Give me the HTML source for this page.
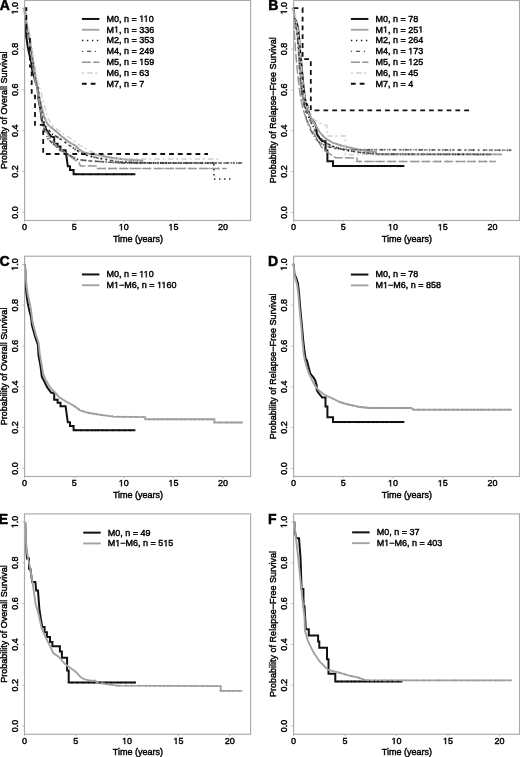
<!DOCTYPE html><html><head><meta charset="utf-8"><style>html,body{margin:0;padding:0;background:#fff;width:520px;height:757px;overflow:hidden}svg{display:block}text{font-family:"Liberation Sans",sans-serif;fill:#000;stroke:#000;stroke-width:0.42px}.h1{fill:none;stroke:none}</style></head><body>
<svg width="520" height="757" viewBox="0 0 520 757" style="filter:grayscale(1)">
<rect width="520" height="757" fill="#fff"/>
<g><path d="M24.8 7.95 L25.5 15.76 L25.8 30.78 L26.4 37.49 L27.6 46.2 L29.1 53.41 L31.1 61.32 L31.9 68.82 L35.2 80.84 L37.9 88.75 L38.5 99.36 L40.5 109.87 L41.8 120.49 L44.5 125.79 L47.1 131.1 L51.1 136.41 L54.2 137.21 L54.2 143.72 L57.6 143.72 L57.6 146.62 L60.5 146.62 L60.5 150.22 L65.6 150.22 L67.8 166.24 L70 166.24 L70 169.95 L73.6 169.95 L73.6 174.15 L135.4 174.15" fill="none" stroke="#111" stroke-width="2" stroke-linejoin="miter" stroke-linecap="butt"/><path d="M24.5 8.2 L25.5 18 L27 26 L28.8 34 L30.2 42 L31.5 50 L33 60 L34.5 72 L36.5 84 L39 95 L41.5 106 L44 116 L46.9 123 L48.5 125.2 L55 130.5 L61.9 136.6 L68.8 142 L75.4 145.8 L79.2 149.5 L83.8 152.3 L90.7 154 L100 155.2 L110 157.5 L125 159.5 L142.3 160.5 L142.3 163 L143.5 163" fill="none" stroke="#a2a2a2" stroke-width="1.9" stroke-linejoin="miter" stroke-linecap="butt"/><path d="M24.5 8.2 L25.6 18 L26.8 25 L28.4 33 L29.8 40 L30.9 48 L32.1 56 L33.3 64 L34.6 72 L36.1 81 L38.1 90 L40.1 102 L42 113 L43 120 L45.8 126.5 L51.5 133.5 L57.3 137 L61.9 140 L68.8 145 L75.4 149.4 L80.8 152.8 L86 155 L95 157.5 L106 159.5 L120 162 L150 163 L214 163 L214 179 L233 179" fill="none" stroke="#222" stroke-width="1.5" stroke-dasharray="1.4 3.6" stroke-linejoin="miter" stroke-linecap="butt"/><path d="M24.8 8.2 L25.6 18 L26.6 25 L28.1 33 L29.5 40 L30.6 48 L31.8 56 L33 64 L34.3 72 L35.8 81 L37.8 90 L39.8 102 L41.8 113 L42.3 124.5 L45 132 L48 138.8 L53.8 144.6 L59.6 149.2 L66.5 153.8 L73.4 157.3 L78 159.6 L90 161 L123 163 L242.5 163" fill="none" stroke="#555" stroke-width="1.4" stroke-dasharray="1.2 3.9 4.1 3.8" stroke-linejoin="miter" stroke-linecap="butt"/><path d="M24.1 8.2 L24.9 18 L25.9 25 L27.4 33 L28.8 40 L29.9 48 L31.1 56 L32.3 64 L33.6 72 L35.1 81 L37.1 90 L39.1 102 L41.1 113 L42 122 L46 131 L50 138 L55 144 L60 149 L67 154 L74.6 159.6 L79.2 163 L80.4 166 L97.5 166 L97.5 168.5 L226.7 168.5" fill="none" stroke="#959595" stroke-width="1.5" stroke-dasharray="9 2.4" stroke-linejoin="miter" stroke-linecap="butt"/><path d="M24.5 8.2 L25.8 16 L27.5 24 L29.5 33 L31 42 L32.6 53.2 L35 66 L37.2 79.6 L41.2 92.8 L44.5 106 L48.4 119.3 L53 125.9 L61 132.5 L70 138 L80 145.5 L90 151 L100 155.5 L106 159 L220 159" fill="none" stroke="#d0d0d0" stroke-width="1.4" stroke-dasharray="2.1 3.1 5.6 2.6" stroke-linejoin="miter" stroke-linecap="butt"/><path d="M24.5 8.2 L26.4 8.2 L26.4 37.4 L29.9 37.4 L29.9 66.5 L31.7 66.5 L31.7 95.7 L35 95.7 L35 124.9 L43.2 124.9 L43.2 154 L208 154" fill="none" stroke="#111" stroke-width="1.8" stroke-dasharray="4.8 4" stroke-linejoin="miter" stroke-linecap="butt"/><path d="M42 116.5v2.2M40.9 117.6h2.2M43.9 127.85v2.2M42.8 128.95h2.2M47.95 137.58v2.2M46.85 138.68h2.2M51.74 141.44v2.2M50.64 142.54h2.2M54 143.66v2.2M52.9 144.76h2.2M56.99 146.03v2.2M55.89 147.13h2.2M59.84 148.26v2.2M58.74 149.36h2.2M63.29 150.56v2.2M62.19 151.66h2.2M67.16 153.03v2.2M66.06 154.13h2.2M68.94 153.94v2.2M67.84 155.04h2.2M70.52 154.74v2.2M69.42 155.84h2.2M74.53 156.77v2.2M73.43 157.87h2.2M77.33 158.16v2.2M76.23 159.26h2.2M81.12 158.86v2.2M80.02 159.96h2.2M82.62 159.04v2.2M81.52 160.14h2.2M85.46 159.37v2.2M84.36 160.47h2.2M89.12 159.8v2.2M88.02 160.9h2.2M91.31 159.98v2.2M90.21 161.08h2.2M95.65 160.24v2.2M94.55 161.34h2.2M99.85 160.5v2.2M98.75 161.6h2.2M101.44 160.59v2.2M100.34 161.69h2.2M103.02 160.69v2.2M101.92 161.79h2.2M106.14 160.88v2.2M105.04 161.98h2.2M110.46 161.14v2.2M109.36 162.24h2.2M113.1 161.3v2.2M112 162.4h2.2M115.25 161.43v2.2M114.15 162.53h2.2M118.02 161.6v2.2M116.92 162.7h2.2M119.61 161.69v2.2M118.51 162.79h2.2M121.77 161.83v2.2M120.67 162.93h2.2M124.59 161.9v2.2M123.49 163h2.2M127.57 161.9v2.2M126.47 163h2.2M129.77 161.9v2.2M128.67 163h2.2M131.96 161.9v2.2M130.86 163h2.2M134.12 161.9v2.2M133.02 163h2.2M137 161.9v2.2M135.9 163h2.2M139.37 161.9v2.2M138.27 163h2.2M140.93 161.9v2.2M139.83 163h2.2M144.95 161.9v2.2M143.85 163h2.2M148.12 161.9v2.2M147.02 163h2.2M151.54 161.9v2.2M150.44 163h2.2M153.6 161.9v2.2M152.5 163h2.2M158.08 161.9v2.2M156.98 163h2.2M162.16 161.9v2.2M161.06 163h2.2M164.02 161.9v2.2M162.92 163h2.2M166.52 161.9v2.2M165.42 163h2.2M170.18 161.9v2.2M169.08 163h2.2M173.82 161.9v2.2M172.72 163h2.2M178.13 161.9v2.2M177.03 163h2.2M180.89 161.9v2.2M179.79 163h2.2M184.88 161.9v2.2M183.78 163h2.2M188.39 161.9v2.2M187.29 163h2.2M190.8 161.9v2.2M189.7 163h2.2M194.07 161.9v2.2M192.97 163h2.2M198.21 161.9v2.2M197.11 163h2.2M202.25 161.9v2.2M201.15 163h2.2M205.27 161.9v2.2M204.17 163h2.2M208.54 161.9v2.2M207.44 163h2.2M210.14 161.9v2.2M209.04 163h2.2M212.37 161.9v2.2M211.27 163h2.2M216.26 161.9v2.2M215.16 163h2.2M219 161.9v2.2M217.9 163h2.2M221.02 161.9v2.2M219.92 163h2.2M224.17 161.9v2.2M223.07 163h2.2M227.78 161.9v2.2M226.68 163h2.2M231.3 161.9v2.2M230.2 163h2.2M233.92 161.9v2.2M232.82 163h2.2M236.74 161.9v2.2M235.64 163h2.2M239.77 161.9v2.2M238.67 163h2.2" fill="none" stroke="#555" stroke-width="0.7"/><path d="M44 121.22v2.2M42.9 122.32h2.2M49.82 130.34v2.2M48.72 131.44h2.2M55.62 134.88v2.2M54.52 135.98h2.2M57.84 136.25v2.2M56.74 137.35h2.2M60.18 137.78v2.2M59.08 138.88h2.2M65.52 141.53v2.2M64.42 142.63h2.2M70.47 145.01v2.2M69.37 146.11h2.2M75.15 148.13v2.2M74.05 149.23h2.2M78.38 150.18v2.2M77.28 151.28h2.2M82.8 152.55v2.2M81.7 153.65h2.2M87.23 154.24v2.2M86.13 155.34h2.2M91.55 155.44v2.2M90.45 156.54h2.2M94.19 156.17v2.2M93.09 157.27h2.2M97.91 156.93v2.2M96.81 158.03h2.2M101.48 157.58v2.2M100.38 158.68h2.2M106.38 158.47v2.2M105.28 159.57h2.2M112.36 159.53v2.2M111.26 160.63h2.2M118.15 160.57v2.2M117.05 161.67h2.2M122.33 160.98v2.2M121.23 162.08h2.2M126.11 161.1v2.2M125.01 162.2h2.2M129.18 161.21v2.2M128.08 162.31h2.2M131.33 161.28v2.2M130.23 162.38h2.2M133.44 161.35v2.2M132.34 162.45h2.2M137.3 161.48v2.2M136.2 162.58h2.2M140.57 161.59v2.2M139.47 162.69h2.2M144.09 161.7v2.2M142.99 162.8h2.2M149.66 161.89v2.2M148.56 162.99h2.2M153.76 161.9v2.2M152.66 163h2.2M158 161.9v2.2M156.9 163h2.2M160.95 161.9v2.2M159.85 163h2.2M163.04 161.9v2.2M161.94 163h2.2M166.34 161.9v2.2M165.24 163h2.2M168.89 161.9v2.2M167.79 163h2.2M172.93 161.9v2.2M171.83 163h2.2M178.92 161.9v2.2M177.82 163h2.2M183.62 161.9v2.2M182.52 163h2.2M186.35 161.9v2.2M185.25 163h2.2M191.92 161.9v2.2M190.82 163h2.2M197.11 161.9v2.2M196.01 163h2.2M202.05 161.9v2.2M200.95 163h2.2M207.68 161.9v2.2M206.58 163h2.2M212.73 161.9v2.2M211.63 163h2.2" fill="none" stroke="#333" stroke-width="0.7"/><path d="M45 117.31v2.2M43.9 118.41h2.2M47.95 123.35v2.2M46.85 124.45h2.2M52.13 127.06v2.2M51.03 128.16h2.2M55.61 129.94v2.2M54.51 131.04h2.2M60.02 133.84v2.2M58.92 134.94h2.2M64.53 137.56v2.2M63.43 138.66h2.2M66.79 139.33v2.2M65.69 140.43h2.2M68.84 140.92v2.2M67.74 142.02h2.2M74.19 144v2.2M73.09 145.1h2.2M77.23 146.48v2.2M76.13 147.58h2.2M80.17 148.99v2.2M79.07 150.09h2.2M86.15 151.78v2.2M85.05 152.88h2.2M90.03 152.73v2.2M88.93 153.83h2.2M95.38 153.5v2.2M94.28 154.6h2.2M99.28 154.01v2.2M98.18 155.11h2.2M103.84 154.98v2.2M102.74 156.08h2.2M106.44 155.58v2.2M105.34 156.68h2.2M110.98 156.53v2.2M109.88 157.63h2.2M116.45 157.26v2.2M115.35 158.36h2.2M120.54 157.81v2.2M119.44 158.91h2.2M125.51 158.43v2.2M124.41 159.53h2.2M130.2 158.7v2.2M129.1 159.8h2.2M132.45 158.83v2.2M131.35 159.93h2.2M137.48 159.12v2.2M136.38 160.22h2.2M141.85 159.37v2.2M140.75 160.47h2.2" fill="none" stroke="#9a9a9a" stroke-width="0.7"/><path d="M100 167.4v2.2M98.9 168.5h2.2M105.15 167.4v2.2M104.05 168.5h2.2M109.37 167.4v2.2M108.27 168.5h2.2M115.65 167.4v2.2M114.55 168.5h2.2M120.23 167.4v2.2M119.13 168.5h2.2M124.2 167.4v2.2M123.1 168.5h2.2M130.51 167.4v2.2M129.41 168.5h2.2M140.43 167.4v2.2M139.33 168.5h2.2M149.54 167.4v2.2M148.44 168.5h2.2M158.39 167.4v2.2M157.29 168.5h2.2M163.45 167.4v2.2M162.35 168.5h2.2M170.7 167.4v2.2M169.6 168.5h2.2M176.14 167.4v2.2M175.04 168.5h2.2M180.85 167.4v2.2M179.75 168.5h2.2M185.09 167.4v2.2M183.99 168.5h2.2M190.09 167.4v2.2M188.99 168.5h2.2M200.09 167.4v2.2M198.99 168.5h2.2M209.39 167.4v2.2M208.29 168.5h2.2M218.53 167.4v2.2M217.43 168.5h2.2" fill="none" stroke="#999" stroke-width="0.7"/><path d="M76 173.05v2.2M74.9 174.15h2.2M82.74 173.05v2.2M81.64 174.15h2.2M90.19 173.05v2.2M89.09 174.15h2.2M97.96 173.05v2.2M96.86 174.15h2.2M106.61 173.05v2.2M105.51 174.15h2.2M114.05 173.05v2.2M112.95 174.15h2.2M122.59 173.05v2.2M121.49 174.15h2.2M125.76 173.05v2.2M124.66 174.15h2.2M131.56 173.05v2.2M130.46 174.15h2.2" fill="none" stroke="#111" stroke-width="0.7"/><rect x="24.6" y="0.5" width="226" height="220" fill="none" stroke="#aaa" stroke-width="1.15"/><line x1="22.4" y1="212.4" x2="24.6" y2="212.4" stroke="#aaa" stroke-width="0.8"/><text transform="translate(17.9,212.4) rotate(-90)" text-anchor="middle" font-size="9">0.0</text><line x1="22.4" y1="171.55" x2="24.6" y2="171.55" stroke="#aaa" stroke-width="0.8"/><text transform="translate(17.9,171.55) rotate(-90)" text-anchor="middle" font-size="9">0.2</text><line x1="22.4" y1="130.7" x2="24.6" y2="130.7" stroke="#aaa" stroke-width="0.8"/><text transform="translate(17.9,130.7) rotate(-90)" text-anchor="middle" font-size="9">0.4</text><line x1="22.4" y1="89.85" x2="24.6" y2="89.85" stroke="#aaa" stroke-width="0.8"/><text transform="translate(17.9,89.85) rotate(-90)" text-anchor="middle" font-size="9">0.6</text><line x1="22.4" y1="49" x2="24.6" y2="49" stroke="#aaa" stroke-width="0.8"/><text transform="translate(17.9,49) rotate(-90)" text-anchor="middle" font-size="9">0.8</text><line x1="22.4" y1="8.15" x2="24.6" y2="8.15" stroke="#aaa" stroke-width="0.8"/><text transform="translate(17.9,8.15) rotate(-90)" text-anchor="middle" font-size="9"><tspan class="h1">1</tspan>.0</text><g transform="translate(17.9,8.15) rotate(-90)"><path d="M-4 0L-4 -5.44L-5.4 -4.44L-5.4 -5.19L-3.94 -6.19L-3.21 -6.19L-3.21 0Z" fill="#000" stroke="#000" stroke-width="0.42"/></g><line x1="24.5" y1="220.5" x2="24.5" y2="222.3" stroke="#aaa" stroke-width="0.8"/><text x="24.5" y="230.3" text-anchor="middle" font-size="9">0</text><line x1="74.15" y1="220.5" x2="74.15" y2="222.3" stroke="#aaa" stroke-width="0.8"/><text x="74.15" y="230.3" text-anchor="middle" font-size="9">5</text><line x1="123.8" y1="220.5" x2="123.8" y2="222.3" stroke="#aaa" stroke-width="0.8"/><text x="123.8" y="230.3" text-anchor="middle" font-size="9"><tspan class="h1">1</tspan>0</text><path d="M121.05 230.3L121.05 224.86L119.65 225.86L119.65 225.11L121.11 224.11L121.84 224.11L121.84 230.3Z" fill="#000" stroke="#000" stroke-width="0.42"/><line x1="173.45" y1="220.5" x2="173.45" y2="222.3" stroke="#aaa" stroke-width="0.8"/><text x="173.45" y="230.3" text-anchor="middle" font-size="9"><tspan class="h1">1</tspan>5</text><path d="M170.7 230.3L170.7 224.86L169.3 225.86L169.3 225.11L170.76 224.11L171.49 224.11L171.49 230.3Z" fill="#000" stroke="#000" stroke-width="0.42"/><line x1="223.1" y1="220.5" x2="223.1" y2="222.3" stroke="#aaa" stroke-width="0.8"/><text x="223.1" y="230.3" text-anchor="middle" font-size="9">20</text><text x="138" y="241.5" text-anchor="middle" font-size="9">Time (years)</text><text transform="translate(7.4,110.28) rotate(-90)" text-anchor="middle" font-size="9">Probability of Overall Survival</text><line x1="81.9" y1="18.95" x2="99.4" y2="18.95" stroke="#111" stroke-width="2"/><text x="106.5" y="21.8" font-size="9">M0, n = <tspan class="h1">1</tspan><tspan class="h1">1</tspan>0</text><path d="M141.53 21.8L141.53 16.36L140.13 17.36L140.13 16.61L141.59 15.61L142.32 15.61L142.32 21.8ZM145.87 21.8L145.87 16.36L144.48 17.36L144.48 16.61L145.94 15.61L146.67 15.61L146.67 21.8Z" fill="#000" stroke="#000" stroke-width="0.42"/><line x1="81.9" y1="29.75" x2="99.4" y2="29.75" stroke="#a2a2a2" stroke-width="1.9"/><text x="106.5" y="32.6" font-size="9">M<tspan class="h1">1</tspan>, n = 336</text><path d="M116.26 32.6L116.26 27.16L114.87 28.16L114.87 27.41L116.33 26.41L117.06 26.41L117.06 32.6Z" fill="#000" stroke="#000" stroke-width="0.42"/><line x1="81.9" y1="40.55" x2="99.4" y2="40.55" stroke="#222" stroke-width="1.5" stroke-dasharray="1.4 3.6"/><text x="106.5" y="43.4" font-size="9">M2, n = 353</text><line x1="81.9" y1="51.35" x2="99.4" y2="51.35" stroke="#555" stroke-width="1.4" stroke-dasharray="1.2 3.9 4.1 3.8"/><text x="106.5" y="54.2" font-size="9">M4, n = 249</text><line x1="81.9" y1="62.15" x2="99.4" y2="62.15" stroke="#959595" stroke-width="1.5" stroke-dasharray="9 2.4"/><text x="106.5" y="65" font-size="9">M5, n = <tspan class="h1">1</tspan>59</text><path d="M141.53 65L141.53 59.56L140.13 60.56L140.13 59.81L141.59 58.81L142.32 58.81L142.32 65Z" fill="#000" stroke="#000" stroke-width="0.42"/><line x1="81.9" y1="72.95" x2="99.4" y2="72.95" stroke="#d0d0d0" stroke-width="1.4" stroke-dasharray="2.1 3.1 5.6 2.6"/><text x="106.5" y="75.8" font-size="9">M6, n = 63</text><line x1="81.9" y1="83.75" x2="99.4" y2="83.75" stroke="#111" stroke-width="1.8" stroke-dasharray="4.8 4"/><text x="106.5" y="86.6" font-size="9">M7, n = 7</text><text x="-0.3" y="9.8" font-size="14" font-weight="bold" style="stroke-width:0.5px">A</text></g>
<g><path d="M293.7 7.55 L294.4 17.56 L296.3 21.87 L297.9 27.07 L299 36.58 L300 49.3 L301.1 60.91 L302.1 71.53 L303.2 83.84 L304.6 95.86 L305.6 102.37 L306.9 104.27 L308.3 109.77 L310.2 117.18 L311.6 119.09 L313.9 121.89 L315.3 124.59 L316.7 129.3 L316.7 133.9 L318.5 136.71 L319.9 138.51 L322.2 141.31 L325.5 141.31 L325.5 150.52 L327.4 150.52 L327.4 161.14 L333 161.14 L333 166.04 L404.4 166.04" fill="none" stroke="#111" stroke-width="2" stroke-linejoin="miter" stroke-linecap="butt"/><path d="M293.5 8.2 L294.3 17 L296 25 L297.5 35 L298.6 48 L299.4 62 L300.4 78 L301.8 92 L303.8 103 L306.8 110 L309.5 115 L312 119.4 L316 126 L320 132.6 L325 138 L333 143 L343 146 L360 150 L376 152 L376 154.2 L501.7 154.4" fill="none" stroke="#a2a2a2" stroke-width="1.9" stroke-linejoin="miter" stroke-linecap="butt"/><path d="M293.5 8.2 L294.5 19 L296.5 28 L298 40 L299 55 L300 70 L301.2 85 L302.8 97 L305 107 L307.5 114 L309.5 119.4 L313 126 L316 132.6 L320 138 L326 143 L333 146.5 L345 150 L360 152.5 L380 154.2 L490 154.4" fill="none" stroke="#222" stroke-width="1.5" stroke-dasharray="1.4 3.6" stroke-linejoin="miter" stroke-linecap="butt"/><path d="M293.5 8.2 L294 16 L295.5 24 L297 34 L298.2 47 L299 62 L300 77 L301.3 90 L303 100 L305 110 L306.5 119.4 L309 127 L312 132.6 L316 139 L320 143 L327 146.5 L335 148.5 L345 149.6 L511.3 150.2" fill="none" stroke="#555" stroke-width="1.4" stroke-dasharray="1.2 3.9 4.1 3.8" stroke-linejoin="miter" stroke-linecap="butt"/><path d="M293.5 8.2 L293.9 20 L294.5 35 L295.5 50 L296.8 65 L298.3 80 L300.2 95 L302.5 107 L305.5 117 L309.5 126 L315.4 136 L318.5 142 L321.5 147 L327.7 152.3 L335.4 157.7 L357 158 L357 161.5 L496 161.5" fill="none" stroke="#959595" stroke-width="1.5" stroke-dasharray="9 2.4" stroke-linejoin="miter" stroke-linecap="butt"/><path d="M293.5 8.2 L295.2 15 L297.6 27 L299.6 42 L300.9 57 L302 72 L303.3 87 L305.2 100 L308 108 L311 114 L314 119.4 L318 122.5 L326.9 125.5 L326.9 136 L345.4 136 L345.4 154.6 L420 154.6" fill="none" stroke="#d0d0d0" stroke-width="1.4" stroke-dasharray="2.1 3.1 5.6 2.6" stroke-linejoin="miter" stroke-linecap="butt"/><path d="M293.5 8.2 L302.6 8.2 L302.6 59.1 L310.8 59.1 L310.8 110.3 L472.5 110.3" fill="none" stroke="#111" stroke-width="1.8" stroke-dasharray="4.8 4" stroke-linejoin="miter" stroke-linecap="butt"/><path d="M302 93.02v2.2M300.9 94.12h2.2M307.17 120.35v2.2M306.07 121.45h2.2M312.46 132.24v2.2M311.36 133.34h2.2M316.4 138.3v2.2M315.3 139.4h2.2M319.45 141.35v2.2M318.35 142.45h2.2M321.45 142.62v2.2M320.35 143.72h2.2M326.1 144.95v2.2M325 146.05h2.2M329.98 146.15v2.2M328.88 147.25h2.2M335.02 147.4v2.2M333.92 148.5h2.2M338.51 147.79v2.2M337.41 148.89h2.2M343.59 148.35v2.2M342.49 149.45h2.2M346.68 148.51v2.2M345.58 149.61h2.2M351.89 148.52v2.2M350.79 149.62h2.2M356.81 148.54v2.2M355.71 149.64h2.2M360.47 148.56v2.2M359.37 149.66h2.2M364.62 148.57v2.2M363.52 149.67h2.2M369.35 148.59v2.2M368.25 149.69h2.2M372.12 148.6v2.2M371.02 149.7h2.2M376.34 148.61v2.2M375.24 149.71h2.2M381.56 148.63v2.2M380.46 149.73h2.2M384.62 148.64v2.2M383.52 149.74h2.2M389.83 148.66v2.2M388.73 149.76h2.2M394.57 148.68v2.2M393.47 149.78h2.2M399.95 148.7v2.2M398.85 149.8h2.2M403.29 148.71v2.2M402.19 149.81h2.2M405.67 148.72v2.2M404.57 149.82h2.2M410.87 148.74v2.2M409.77 149.84h2.2M416.09 148.76v2.2M414.99 149.86h2.2M419.87 148.77v2.2M418.77 149.87h2.2M422.24 148.78v2.2M421.14 149.88h2.2M425.03 148.79v2.2M423.93 149.89h2.2M429.57 148.81v2.2M428.47 149.91h2.2M432.74 148.82v2.2M431.64 149.92h2.2M438.54 148.84v2.2M437.44 149.94h2.2M442.9 148.85v2.2M441.8 149.95h2.2M445.7 148.86v2.2M444.6 149.96h2.2M450.32 148.88v2.2M449.22 149.98h2.2M453.76 148.89v2.2M452.66 149.99h2.2M459.49 148.91v2.2M458.39 150.01h2.2M465.13 148.93v2.2M464.03 150.03h2.2M469.19 148.95v2.2M468.09 150.05h2.2M473.77 148.96v2.2M472.67 150.06h2.2M478.56 148.98v2.2M477.46 150.08h2.2M483.78 149v2.2M482.68 150.1h2.2M489.69 149.02v2.2M488.59 150.12h2.2M491.8 149.03v2.2M490.7 150.13h2.2M495.25 149.04v2.2M494.15 150.14h2.2M499.65 149.06v2.2M498.55 150.16h2.2M502.87 149.07v2.2M501.77 150.17h2.2M507.23 149.09v2.2M506.13 150.19h2.2M509.59 149.09v2.2M508.49 150.19h2.2" fill="none" stroke="#555" stroke-width="0.7"/><path d="M302 89.9v2.2M300.9 91h2.2M304.47 103.5v2.2M303.37 104.6h2.2M306.42 109.89v2.2M305.32 110.99h2.2M309.88 119.01v2.2M308.78 120.11h2.2M311.59 122.25v2.2M310.49 123.35h2.2M314.7 128.64v2.2M313.6 129.74h2.2M317.3 133.25v2.2M316.2 134.35h2.2M318.97 135.51v2.2M317.87 136.61h2.2M322 138.56v2.2M320.9 139.66h2.2M323.61 139.91v2.2M322.51 141.01h2.2M326.41 142.1v2.2M325.31 143.2h2.2M328.12 142.96v2.2M327.02 144.06h2.2M329.89 143.85v2.2M328.79 144.95h2.2M332.66 145.23v2.2M331.56 146.33h2.2M336.64 146.46v2.2M335.54 147.56h2.2M338.52 147.01v2.2M337.42 148.11h2.2M340.69 147.64v2.2M339.59 148.74h2.2M344.07 148.63v2.2M342.97 149.73h2.2M348.41 149.47v2.2M347.31 150.57h2.2M351.64 150.01v2.2M350.54 151.11h2.2M354.33 150.46v2.2M353.23 151.56h2.2M358.76 151.19v2.2M357.66 152.29h2.2M360.4 151.43v2.2M359.3 152.53h2.2M364.48 151.78v2.2M363.38 152.88h2.2M366.85 151.98v2.2M365.75 153.08h2.2M368.78 152.15v2.2M367.68 153.25h2.2M370.63 152.3v2.2M369.53 153.4h2.2M373.06 152.51v2.2M371.96 153.61h2.2M377.01 152.85v2.2M375.91 153.95h2.2M379.05 153.02v2.2M377.95 154.12h2.2M382.29 153.1v2.2M381.19 154.2h2.2M385.71 153.11v2.2M384.61 154.21h2.2M388.33 153.12v2.2M387.23 154.22h2.2M391.47 153.12v2.2M390.37 154.22h2.2M393.16 153.12v2.2M392.06 154.22h2.2M394.84 153.13v2.2M393.74 154.23h2.2M396.95 153.13v2.2M395.85 154.23h2.2M400.5 153.14v2.2M399.4 154.24h2.2M403.28 153.14v2.2M402.18 154.24h2.2M405.72 153.15v2.2M404.62 154.25h2.2M408.98 153.15v2.2M407.88 154.25h2.2M411.84 153.16v2.2M410.74 154.26h2.2M414.24 153.16v2.2M413.14 154.26h2.2M418.12 153.17v2.2M417.02 154.27h2.2M421.72 153.18v2.2M420.62 154.28h2.2M423.95 153.18v2.2M422.85 154.28h2.2M427.17 153.19v2.2M426.07 154.29h2.2M430.25 153.19v2.2M429.15 154.29h2.2M434.37 153.2v2.2M433.27 154.3h2.2M438.06 153.21v2.2M436.96 154.31h2.2M440.43 153.21v2.2M439.33 154.31h2.2M444.87 153.22v2.2M443.77 154.32h2.2M446.72 153.22v2.2M445.62 154.32h2.2M449.47 153.23v2.2M448.37 154.33h2.2M453.25 153.23v2.2M452.15 154.33h2.2M455.2 153.24v2.2M454.1 154.34h2.2M458.17 153.24v2.2M457.07 154.34h2.2M459.79 153.25v2.2M458.69 154.35h2.2M463.29 153.25v2.2M462.19 154.35h2.2M467.08 153.26v2.2M465.98 154.36h2.2M470.3 153.26v2.2M469.2 154.36h2.2M474.43 153.27v2.2M473.33 154.37h2.2M476.87 153.28v2.2M475.77 154.38h2.2M480.46 153.28v2.2M479.36 154.38h2.2M483.74 153.29v2.2M482.64 154.39h2.2M486.98 153.29v2.2M485.88 154.39h2.2M489.85 153.3v2.2M488.75 154.4h2.2" fill="none" stroke="#333" stroke-width="0.7"/><path d="M303 97.5v2.2M301.9 98.6h2.2M306.63 108.51v2.2M305.53 109.61h2.2M313.95 121.51v2.2M312.85 122.61h2.2M317.08 126.68v2.2M315.98 127.78h2.2M323.1 134.85v2.2M322 135.95h2.2M326.03 137.54v2.2M324.93 138.64h2.2M329.76 139.88v2.2M328.66 140.98h2.2M337.26 143.18v2.2M336.16 144.28h2.2M340.81 144.24v2.2M339.71 145.34h2.2M346.52 145.73v2.2M345.42 146.83h2.2M351.31 146.86v2.2M350.21 147.96h2.2M356.08 147.98v2.2M354.98 149.08h2.2M361.05 149.03v2.2M359.95 150.13h2.2M364.51 149.46v2.2M363.41 150.56h2.2M371.17 150.3v2.2M370.07 151.4h2.2M374.11 150.66v2.2M373.01 151.76h2.2M377.78 153.1v2.2M376.68 154.2h2.2M380.38 153.11v2.2M379.28 154.21h2.2M384.22 153.11v2.2M383.12 154.21h2.2M388.76 153.12v2.2M387.66 154.22h2.2M395.77 153.13v2.2M394.67 154.23h2.2M400.16 153.14v2.2M399.06 154.24h2.2M403.23 153.14v2.2M402.13 154.24h2.2M407.02 153.15v2.2M405.92 154.25h2.2M414.48 153.16v2.2M413.38 154.26h2.2M417.3 153.17v2.2M416.2 154.27h2.2M422.9 153.17v2.2M421.8 154.27h2.2M427.28 153.18v2.2M426.18 154.28h2.2M433.09 153.19v2.2M431.99 154.29h2.2M437.28 153.2v2.2M436.18 154.3h2.2M443.24 153.21v2.2M442.14 154.31h2.2M448.22 153.21v2.2M447.12 154.31h2.2M453.97 153.22v2.2M452.87 154.32h2.2M460.98 153.24v2.2M459.88 154.34h2.2M466.39 153.24v2.2M465.29 154.34h2.2M469.6 153.25v2.2M468.5 154.35h2.2M472.42 153.25v2.2M471.32 154.35h2.2M479.65 153.26v2.2M478.55 154.36h2.2M484.59 153.27v2.2M483.49 154.37h2.2M488.06 153.28v2.2M486.96 154.38h2.2M495.29 153.29v2.2M494.19 154.39h2.2M500.69 153.3v2.2M499.59 154.4h2.2" fill="none" stroke="#9a9a9a" stroke-width="0.7"/><path d="M360 160.4v2.2M358.9 161.5h2.2M367.7 160.4v2.2M366.6 161.5h2.2M374.69 160.4v2.2M373.59 161.5h2.2M379.8 160.4v2.2M378.7 161.5h2.2M390.73 160.4v2.2M389.63 161.5h2.2M394.78 160.4v2.2M393.68 161.5h2.2M402.81 160.4v2.2M401.71 161.5h2.2M413.99 160.4v2.2M412.89 161.5h2.2M418.64 160.4v2.2M417.54 161.5h2.2M427.07 160.4v2.2M425.97 161.5h2.2M436.01 160.4v2.2M434.91 161.5h2.2M440.33 160.4v2.2M439.23 161.5h2.2M447.36 160.4v2.2M446.26 161.5h2.2M456.99 160.4v2.2M455.89 161.5h2.2M464.61 160.4v2.2M463.51 161.5h2.2M474.41 160.4v2.2M473.31 161.5h2.2M479.67 160.4v2.2M478.57 161.5h2.2M485.57 160.4v2.2M484.47 161.5h2.2M490.46 160.4v2.2M489.36 161.5h2.2" fill="none" stroke="#999" stroke-width="0.7"/><path d="M336 164.94v2.2M334.9 166.04h2.2M340.82 164.94v2.2M339.72 166.04h2.2M345 164.94v2.2M343.9 166.04h2.2M349.85 164.94v2.2M348.75 166.04h2.2M353.03 164.94v2.2M351.93 166.04h2.2M358.94 164.94v2.2M357.84 166.04h2.2M364.9 164.94v2.2M363.8 166.04h2.2M370.09 164.94v2.2M368.99 166.04h2.2M373.06 164.94v2.2M371.96 166.04h2.2M377.65 164.94v2.2M376.55 166.04h2.2M381.38 164.94v2.2M380.28 166.04h2.2M384.75 164.94v2.2M383.65 166.04h2.2M391.29 164.94v2.2M390.19 166.04h2.2M398.02 164.94v2.2M396.92 166.04h2.2M400.47 164.94v2.2M399.37 166.04h2.2" fill="none" stroke="#111" stroke-width="0.7"/><rect x="293.6" y="0.5" width="225.9" height="220" fill="none" stroke="#aaa" stroke-width="1.15"/><line x1="291.4" y1="212.4" x2="293.6" y2="212.4" stroke="#aaa" stroke-width="0.8"/><text transform="translate(286.9,212.4) rotate(-90)" text-anchor="middle" font-size="9">0.0</text><line x1="291.4" y1="171.55" x2="293.6" y2="171.55" stroke="#aaa" stroke-width="0.8"/><text transform="translate(286.9,171.55) rotate(-90)" text-anchor="middle" font-size="9">0.2</text><line x1="291.4" y1="130.7" x2="293.6" y2="130.7" stroke="#aaa" stroke-width="0.8"/><text transform="translate(286.9,130.7) rotate(-90)" text-anchor="middle" font-size="9">0.4</text><line x1="291.4" y1="89.85" x2="293.6" y2="89.85" stroke="#aaa" stroke-width="0.8"/><text transform="translate(286.9,89.85) rotate(-90)" text-anchor="middle" font-size="9">0.6</text><line x1="291.4" y1="49" x2="293.6" y2="49" stroke="#aaa" stroke-width="0.8"/><text transform="translate(286.9,49) rotate(-90)" text-anchor="middle" font-size="9">0.8</text><line x1="291.4" y1="8.15" x2="293.6" y2="8.15" stroke="#aaa" stroke-width="0.8"/><text transform="translate(286.9,8.15) rotate(-90)" text-anchor="middle" font-size="9"><tspan class="h1">1</tspan>.0</text><g transform="translate(286.9,8.15) rotate(-90)"><path d="M-4 0L-4 -5.44L-5.4 -4.44L-5.4 -5.19L-3.94 -6.19L-3.21 -6.19L-3.21 0Z" fill="#000" stroke="#000" stroke-width="0.42"/></g><line x1="293.5" y1="220.5" x2="293.5" y2="222.3" stroke="#aaa" stroke-width="0.8"/><text x="293.5" y="230.3" text-anchor="middle" font-size="9">0</text><line x1="343.25" y1="220.5" x2="343.25" y2="222.3" stroke="#aaa" stroke-width="0.8"/><text x="343.25" y="230.3" text-anchor="middle" font-size="9">5</text><line x1="393" y1="220.5" x2="393" y2="222.3" stroke="#aaa" stroke-width="0.8"/><text x="393" y="230.3" text-anchor="middle" font-size="9"><tspan class="h1">1</tspan>0</text><path d="M390.25 230.3L390.25 224.86L388.85 225.86L388.85 225.11L390.31 224.11L391.04 224.11L391.04 230.3Z" fill="#000" stroke="#000" stroke-width="0.42"/><line x1="442.75" y1="220.5" x2="442.75" y2="222.3" stroke="#aaa" stroke-width="0.8"/><text x="442.75" y="230.3" text-anchor="middle" font-size="9"><tspan class="h1">1</tspan>5</text><path d="M440 230.3L440 224.86L438.6 225.86L438.6 225.11L440.06 224.11L440.79 224.11L440.79 230.3Z" fill="#000" stroke="#000" stroke-width="0.42"/><line x1="492.5" y1="220.5" x2="492.5" y2="222.3" stroke="#aaa" stroke-width="0.8"/><text x="492.5" y="230.3" text-anchor="middle" font-size="9">20</text><text x="406.95" y="241.5" text-anchor="middle" font-size="9">Time (years)</text><text transform="translate(275.5,110.28) rotate(-90)" text-anchor="middle" font-size="9">Probability of Relapse−Free Survival</text><line x1="350.9" y1="18.95" x2="368.4" y2="18.95" stroke="#111" stroke-width="2"/><text x="375.5" y="21.8" font-size="9">M0, n = 78</text><line x1="350.9" y1="29.75" x2="368.4" y2="29.75" stroke="#a2a2a2" stroke-width="1.9"/><text x="375.5" y="32.6" font-size="9">M<tspan class="h1">1</tspan>, n = 25<tspan class="h1">1</tspan></text><path d="M385.26 32.6L385.26 27.16L383.87 28.16L383.87 27.41L385.33 26.41L386.06 26.41L386.06 32.6ZM420.56 32.6L420.56 27.16L419.16 28.16L419.16 27.41L420.63 26.41L421.36 26.41L421.36 32.6Z" fill="#000" stroke="#000" stroke-width="0.42"/><line x1="350.9" y1="40.55" x2="368.4" y2="40.55" stroke="#222" stroke-width="1.5" stroke-dasharray="1.4 3.6"/><text x="375.5" y="43.4" font-size="9">M2, n = 264</text><line x1="350.9" y1="51.35" x2="368.4" y2="51.35" stroke="#555" stroke-width="1.4" stroke-dasharray="1.2 3.9 4.1 3.8"/><text x="375.5" y="54.2" font-size="9">M4, n = <tspan class="h1">1</tspan>73</text><path d="M410.53 54.2L410.53 48.76L409.13 49.76L409.13 49.01L410.59 48.01L411.32 48.01L411.32 54.2Z" fill="#000" stroke="#000" stroke-width="0.42"/><line x1="350.9" y1="62.15" x2="368.4" y2="62.15" stroke="#959595" stroke-width="1.5" stroke-dasharray="9 2.4"/><text x="375.5" y="65" font-size="9">M5, n = <tspan class="h1">1</tspan>25</text><path d="M410.53 65L410.53 59.56L409.13 60.56L409.13 59.81L410.59 58.81L411.32 58.81L411.32 65Z" fill="#000" stroke="#000" stroke-width="0.42"/><line x1="350.9" y1="72.95" x2="368.4" y2="72.95" stroke="#d0d0d0" stroke-width="1.4" stroke-dasharray="2.1 3.1 5.6 2.6"/><text x="375.5" y="75.8" font-size="9">M6, n = 45</text><line x1="350.9" y1="83.75" x2="368.4" y2="83.75" stroke="#111" stroke-width="1.8" stroke-dasharray="4.8 4"/><text x="375.5" y="86.6" font-size="9">M7, n = 4</text><text x="268.2" y="10.1" font-size="14" font-weight="bold" style="stroke-width:0.5px">B</text></g>
<g><path d="M24.8 264.2 L25.5 272 L25.8 287 L26.4 293.7 L27.6 302.4 L29.1 309.6 L31.1 317.5 L31.9 325 L35.2 337 L37.9 344.9 L38.5 355.5 L40.5 366 L41.8 376.6 L44.5 381.9 L47.1 387.2 L51.1 392.5 L54.2 393.3 L54.2 399.8 L57.6 399.8 L57.6 402.7 L60.5 402.7 L60.5 406.3 L65.6 406.3 L67.8 422.3 L70 422.3 L70 426 L73.6 426 L73.6 430.2 L135.4 430.2" fill="none" stroke="#111" stroke-width="2" stroke-linejoin="miter" stroke-linecap="butt"/><path d="M24.8 264.2 L25.6 275 L26.5 285 L27.8 295 L29.5 302 L31 310 L32.5 322 L36 335 L38.6 343 L39.6 352.8 L41.5 364 L43.1 374 L45.5 379.5 L48.4 384.5 L51.5 389 L55 392.5 L59 397 L66 401.5 L73.6 405.6 L80.1 410.3 L88.1 412.8 L100.8 414.9 L113.8 416.6 L145.2 417.1 L145.2 419.3 L214.4 419.3 L214.4 422.5 L242.8 422.5" fill="none" stroke="#a2a2a2" stroke-width="1.9" stroke-linejoin="miter" stroke-linecap="butt"/><path d="M75 405.51v2.2M73.9 406.61h2.2M78.81 408.27v2.2M77.71 409.37h2.2M83.05 410.12v2.2M81.95 411.22h2.2M88.75 411.81v2.2M87.65 412.91h2.2M92.61 412.45v2.2M91.51 413.55h2.2M96.64 413.11v2.2M95.54 414.21h2.2M100.99 413.82v2.2M99.89 414.92h2.2M103.73 414.18v2.2M102.63 415.28h2.2M107.78 414.71v2.2M106.68 415.81h2.2M112.29 415.3v2.2M111.19 416.4h2.2M117.47 415.56v2.2M116.37 416.66h2.2M119.84 415.6v2.2M118.74 416.7h2.2M123.06 415.65v2.2M121.96 416.75h2.2M125.42 415.69v2.2M124.32 416.79h2.2M130.66 415.77v2.2M129.56 416.87h2.2M135.43 415.84v2.2M134.33 416.94h2.2M137.6 415.88v2.2M136.5 416.98h2.2M143.53 415.97v2.2M142.43 417.07h2.2M149.39 418.2v2.2M148.29 419.3h2.2M154 418.2v2.2M152.9 419.3h2.2M158.47 418.2v2.2M157.37 419.3h2.2M161.1 418.2v2.2M160 419.3h2.2M163.16 418.2v2.2M162.06 419.3h2.2M167.27 418.2v2.2M166.17 419.3h2.2M169.51 418.2v2.2M168.41 419.3h2.2M172.27 418.2v2.2M171.17 419.3h2.2M175.24 418.2v2.2M174.14 419.3h2.2M177.36 418.2v2.2M176.26 419.3h2.2M181.21 418.2v2.2M180.11 419.3h2.2M184.97 418.2v2.2M183.87 419.3h2.2M190.34 418.2v2.2M189.24 419.3h2.2M194.42 418.2v2.2M193.32 419.3h2.2M198.98 418.2v2.2M197.88 419.3h2.2M202.98 418.2v2.2M201.88 419.3h2.2M207.63 418.2v2.2M206.53 419.3h2.2M211.46 418.2v2.2M210.36 419.3h2.2M214.57 421.4v2.2M213.47 422.5h2.2M220.56 421.4v2.2M219.46 422.5h2.2M226.55 421.4v2.2M225.45 422.5h2.2M231.91 421.4v2.2M230.81 422.5h2.2M236.74 421.4v2.2M235.64 422.5h2.2M240 421.4v2.2M238.9 422.5h2.2" fill="none" stroke="#9a9a9a" stroke-width="0.7"/><path d="M76 429.1v2.2M74.9 430.2h2.2M80.87 429.1v2.2M79.77 430.2h2.2M86.66 429.1v2.2M85.56 430.2h2.2M92.49 429.1v2.2M91.39 430.2h2.2M95.71 429.1v2.2M94.61 430.2h2.2M98.26 429.1v2.2M97.16 430.2h2.2M102.63 429.1v2.2M101.53 430.2h2.2M106.5 429.1v2.2M105.4 430.2h2.2M113.06 429.1v2.2M111.96 430.2h2.2M119.01 429.1v2.2M117.91 430.2h2.2M124.52 429.1v2.2M123.42 430.2h2.2M129.81 429.1v2.2M128.71 430.2h2.2" fill="none" stroke="#111" stroke-width="0.7"/><rect x="24.6" y="256.2" width="226" height="220.3" fill="none" stroke="#aaa" stroke-width="1.15"/><line x1="22.4" y1="468.4" x2="24.6" y2="468.4" stroke="#aaa" stroke-width="0.8"/><text transform="translate(17.9,468.4) rotate(-90)" text-anchor="middle" font-size="9">0.0</text><line x1="22.4" y1="427.6" x2="24.6" y2="427.6" stroke="#aaa" stroke-width="0.8"/><text transform="translate(17.9,427.6) rotate(-90)" text-anchor="middle" font-size="9">0.2</text><line x1="22.4" y1="386.8" x2="24.6" y2="386.8" stroke="#aaa" stroke-width="0.8"/><text transform="translate(17.9,386.8) rotate(-90)" text-anchor="middle" font-size="9">0.4</text><line x1="22.4" y1="346" x2="24.6" y2="346" stroke="#aaa" stroke-width="0.8"/><text transform="translate(17.9,346) rotate(-90)" text-anchor="middle" font-size="9">0.6</text><line x1="22.4" y1="305.2" x2="24.6" y2="305.2" stroke="#aaa" stroke-width="0.8"/><text transform="translate(17.9,305.2) rotate(-90)" text-anchor="middle" font-size="9">0.8</text><line x1="22.4" y1="264.4" x2="24.6" y2="264.4" stroke="#aaa" stroke-width="0.8"/><text transform="translate(17.9,264.4) rotate(-90)" text-anchor="middle" font-size="9"><tspan class="h1">1</tspan>.0</text><g transform="translate(17.9,264.4) rotate(-90)"><path d="M-4 0L-4 -5.44L-5.4 -4.44L-5.4 -5.19L-3.94 -6.19L-3.21 -6.19L-3.21 0Z" fill="#000" stroke="#000" stroke-width="0.42"/></g><line x1="24.5" y1="476.5" x2="24.5" y2="478.3" stroke="#aaa" stroke-width="0.8"/><text x="24.5" y="486.3" text-anchor="middle" font-size="9">0</text><line x1="74.15" y1="476.5" x2="74.15" y2="478.3" stroke="#aaa" stroke-width="0.8"/><text x="74.15" y="486.3" text-anchor="middle" font-size="9">5</text><line x1="123.8" y1="476.5" x2="123.8" y2="478.3" stroke="#aaa" stroke-width="0.8"/><text x="123.8" y="486.3" text-anchor="middle" font-size="9"><tspan class="h1">1</tspan>0</text><path d="M121.05 486.3L121.05 480.86L119.65 481.86L119.65 481.11L121.11 480.11L121.84 480.11L121.84 486.3Z" fill="#000" stroke="#000" stroke-width="0.42"/><line x1="173.45" y1="476.5" x2="173.45" y2="478.3" stroke="#aaa" stroke-width="0.8"/><text x="173.45" y="486.3" text-anchor="middle" font-size="9"><tspan class="h1">1</tspan>5</text><path d="M170.7 486.3L170.7 480.86L169.3 481.86L169.3 481.11L170.76 480.11L171.49 480.11L171.49 486.3Z" fill="#000" stroke="#000" stroke-width="0.42"/><line x1="223.1" y1="476.5" x2="223.1" y2="478.3" stroke="#aaa" stroke-width="0.8"/><text x="223.1" y="486.3" text-anchor="middle" font-size="9">20</text><text x="138" y="497.5" text-anchor="middle" font-size="9">Time (years)</text><text transform="translate(7.4,366.4) rotate(-90)" text-anchor="middle" font-size="9">Probability of Overall Survival</text><line x1="81.9" y1="274.45" x2="99.4" y2="274.45" stroke="#111" stroke-width="2"/><text x="106.5" y="277.3" font-size="9">M0, n = <tspan class="h1">1</tspan><tspan class="h1">1</tspan>0</text><path d="M141.53 277.3L141.53 271.86L140.13 272.86L140.13 272.11L141.59 271.11L142.32 271.11L142.32 277.3ZM145.87 277.3L145.87 271.86L144.48 272.86L144.48 272.11L145.94 271.11L146.67 271.11L146.67 277.3Z" fill="#000" stroke="#000" stroke-width="0.42"/><line x1="81.9" y1="285.25" x2="99.4" y2="285.25" stroke="#a2a2a2" stroke-width="1.9"/><text x="106.5" y="288.1" font-size="9">M<tspan class="h1">1</tspan>−M6, n = <tspan class="h1">1</tspan><tspan class="h1">1</tspan>60</text><path d="M116.26 288.1L116.26 282.66L114.87 283.66L114.87 282.91L116.33 281.91L117.06 281.91L117.06 288.1ZM159.31 288.1L159.31 282.66L157.91 283.66L157.91 282.91L159.38 281.91L160.11 281.91L160.11 288.1ZM163.65 288.1L163.65 282.66L162.26 283.66L162.26 282.91L163.72 281.91L164.45 281.91L164.45 288.1Z" fill="#000" stroke="#000" stroke-width="0.42"/><text x="-0.5" y="266" font-size="14" font-weight="bold" style="stroke-width:0.5px">C</text></g>
<g><path d="M293.7 263.8 L294.4 273.8 L296.3 278.1 L297.9 283.3 L299 292.8 L300 305.5 L301.1 317.1 L302.1 327.7 L303.2 340 L304.6 352 L305.6 358.5 L306.9 360.4 L308.3 365.9 L310.2 373.3 L311.6 375.2 L313.9 378 L315.3 380.7 L316.7 385.4 L316.7 390 L318.5 392.8 L319.9 394.6 L322.2 397.4 L325.5 397.4 L325.5 406.6 L327.4 406.6 L327.4 417.2 L333 417.2 L333 422.1 L404.4 422.1" fill="none" stroke="#111" stroke-width="2" stroke-linejoin="miter" stroke-linecap="butt"/><path d="M293.7 263.8 L294.2 273.8 L295.6 279 L297.2 285 L298.3 294 L299.3 306 L300.4 318 L301.4 328 L302.3 340 L303.7 353.9 L305.1 361.3 L306.9 367.8 L309.3 374.3 L312 379.8 L314.8 385.4 L318.5 390 L323.1 393.7 L327.8 396.5 L332.4 398.3 L339.8 402 L346.2 404 L358.5 406.8 L369.2 408 L411.5 408 L413.5 409.7 L511.8 409.7" fill="none" stroke="#a2a2a2" stroke-width="1.9" stroke-linejoin="miter" stroke-linecap="butt"/><path d="M340 400.96v2.2M338.9 402.06h2.2M343.04 401.91v2.2M341.94 403.01h2.2M347.78 403.26v2.2M346.68 404.36h2.2M352.51 404.34v2.2M351.41 405.44h2.2M357.91 405.57v2.2M356.81 406.67h2.2M360.65 405.94v2.2M359.55 407.04h2.2M363.58 406.27v2.2M362.48 407.37h2.2M366.16 406.56v2.2M365.06 407.66h2.2M369.07 406.88v2.2M367.97 407.98h2.2M374 406.9v2.2M372.9 408h2.2M376.52 406.9v2.2M375.42 408h2.2M380.65 406.9v2.2M379.55 408h2.2M383.5 406.9v2.2M382.4 408h2.2M386.68 406.9v2.2M385.58 408h2.2M390.41 406.9v2.2M389.31 408h2.2M395.76 406.9v2.2M394.66 408h2.2M400.19 406.9v2.2M399.09 408h2.2M402.25 406.9v2.2M401.15 408h2.2M405.35 406.9v2.2M404.25 408h2.2M407.94 406.9v2.2M406.84 408h2.2M413.43 408.54v2.2M412.33 409.64h2.2M418.66 408.6v2.2M417.56 409.7h2.2M423.89 408.6v2.2M422.79 409.7h2.2M429.19 408.6v2.2M428.09 409.7h2.2M434.17 408.6v2.2M433.07 409.7h2.2M439.97 408.6v2.2M438.87 409.7h2.2M445.15 408.6v2.2M444.05 409.7h2.2M448.17 408.6v2.2M447.07 409.7h2.2M453.57 408.6v2.2M452.47 409.7h2.2M457.52 408.6v2.2M456.42 409.7h2.2M462.54 408.6v2.2M461.44 409.7h2.2M466.8 408.6v2.2M465.7 409.7h2.2M470.51 408.6v2.2M469.41 409.7h2.2M473.97 408.6v2.2M472.87 409.7h2.2M477.69 408.6v2.2M476.59 409.7h2.2M480.94 408.6v2.2M479.84 409.7h2.2M483.41 408.6v2.2M482.31 409.7h2.2M488.69 408.6v2.2M487.59 409.7h2.2M493.89 408.6v2.2M492.79 409.7h2.2M499.83 408.6v2.2M498.73 409.7h2.2M504.59 408.6v2.2M503.49 409.7h2.2M508.81 408.6v2.2M507.71 409.7h2.2" fill="none" stroke="#9a9a9a" stroke-width="0.7"/><path d="M336 421v2.2M334.9 422.1h2.2M338.73 421v2.2M337.63 422.1h2.2M344.14 421v2.2M343.04 422.1h2.2M349.33 421v2.2M348.23 422.1h2.2M355.81 421v2.2M354.71 422.1h2.2M359.28 421v2.2M358.18 422.1h2.2M362.68 421v2.2M361.58 422.1h2.2M368.23 421v2.2M367.13 422.1h2.2M373.45 421v2.2M372.35 422.1h2.2M377.06 421v2.2M375.96 422.1h2.2M382.39 421v2.2M381.29 422.1h2.2M386.42 421v2.2M385.32 422.1h2.2M392.17 421v2.2M391.07 422.1h2.2M394.95 421v2.2M393.85 422.1h2.2M398.21 421v2.2M397.11 422.1h2.2" fill="none" stroke="#111" stroke-width="0.7"/><rect x="293.6" y="256.2" width="225.9" height="220.3" fill="none" stroke="#aaa" stroke-width="1.15"/><line x1="291.4" y1="468.4" x2="293.6" y2="468.4" stroke="#aaa" stroke-width="0.8"/><text transform="translate(286.9,468.4) rotate(-90)" text-anchor="middle" font-size="9">0.0</text><line x1="291.4" y1="427.6" x2="293.6" y2="427.6" stroke="#aaa" stroke-width="0.8"/><text transform="translate(286.9,427.6) rotate(-90)" text-anchor="middle" font-size="9">0.2</text><line x1="291.4" y1="386.8" x2="293.6" y2="386.8" stroke="#aaa" stroke-width="0.8"/><text transform="translate(286.9,386.8) rotate(-90)" text-anchor="middle" font-size="9">0.4</text><line x1="291.4" y1="346" x2="293.6" y2="346" stroke="#aaa" stroke-width="0.8"/><text transform="translate(286.9,346) rotate(-90)" text-anchor="middle" font-size="9">0.6</text><line x1="291.4" y1="305.2" x2="293.6" y2="305.2" stroke="#aaa" stroke-width="0.8"/><text transform="translate(286.9,305.2) rotate(-90)" text-anchor="middle" font-size="9">0.8</text><line x1="291.4" y1="264.4" x2="293.6" y2="264.4" stroke="#aaa" stroke-width="0.8"/><text transform="translate(286.9,264.4) rotate(-90)" text-anchor="middle" font-size="9"><tspan class="h1">1</tspan>.0</text><g transform="translate(286.9,264.4) rotate(-90)"><path d="M-4 0L-4 -5.44L-5.4 -4.44L-5.4 -5.19L-3.94 -6.19L-3.21 -6.19L-3.21 0Z" fill="#000" stroke="#000" stroke-width="0.42"/></g><line x1="293.5" y1="476.5" x2="293.5" y2="478.3" stroke="#aaa" stroke-width="0.8"/><text x="293.5" y="486.3" text-anchor="middle" font-size="9">0</text><line x1="343.25" y1="476.5" x2="343.25" y2="478.3" stroke="#aaa" stroke-width="0.8"/><text x="343.25" y="486.3" text-anchor="middle" font-size="9">5</text><line x1="393" y1="476.5" x2="393" y2="478.3" stroke="#aaa" stroke-width="0.8"/><text x="393" y="486.3" text-anchor="middle" font-size="9"><tspan class="h1">1</tspan>0</text><path d="M390.25 486.3L390.25 480.86L388.85 481.86L388.85 481.11L390.31 480.11L391.04 480.11L391.04 486.3Z" fill="#000" stroke="#000" stroke-width="0.42"/><line x1="442.75" y1="476.5" x2="442.75" y2="478.3" stroke="#aaa" stroke-width="0.8"/><text x="442.75" y="486.3" text-anchor="middle" font-size="9"><tspan class="h1">1</tspan>5</text><path d="M440 486.3L440 480.86L438.6 481.86L438.6 481.11L440.06 480.11L440.79 480.11L440.79 486.3Z" fill="#000" stroke="#000" stroke-width="0.42"/><line x1="492.5" y1="476.5" x2="492.5" y2="478.3" stroke="#aaa" stroke-width="0.8"/><text x="492.5" y="486.3" text-anchor="middle" font-size="9">20</text><text x="406.95" y="497.5" text-anchor="middle" font-size="9">Time (years)</text><text transform="translate(275.5,366.4) rotate(-90)" text-anchor="middle" font-size="9">Probability of Relapse−Free Survival</text><line x1="350.9" y1="274.55" x2="368.4" y2="274.55" stroke="#111" stroke-width="2"/><text x="375.5" y="277.4" font-size="9">M0, n = 78</text><line x1="350.9" y1="285.35" x2="368.4" y2="285.35" stroke="#a2a2a2" stroke-width="1.9"/><text x="375.5" y="288.2" font-size="9">M<tspan class="h1">1</tspan>−M6, n = 858</text><path d="M385.26 288.2L385.26 282.76L383.87 283.76L383.87 283.01L385.33 282.01L386.06 282.01L386.06 288.2Z" fill="#000" stroke="#000" stroke-width="0.42"/><text x="268" y="266" font-size="14" font-weight="bold" style="stroke-width:0.5px">D</text></g>
<g><path d="M25.2 522.3 L25.8 540 L26.3 549.9 L27.1 558.6 L29 558.6 L29 568.8 L30.4 568.8 L32.2 581.9 L35.4 581.9 L36.2 590.6 L38 590.6 L39.4 609.5 L40.8 618.5 L42.3 626.9 L44.6 626.9 L44.6 632.3 L46.9 632.3 L46.9 636.9 L50 636.9 L50 641.9 L52.4 641.9 L52.4 646.3 L59.9 646.3 L59.9 651.4 L61.9 651.4 L61.9 657.8 L67.1 657.8 L67.1 670.5 L68.7 670.5 L68.7 682.6 L135.8 682.6" fill="none" stroke="#111" stroke-width="2" stroke-linejoin="miter" stroke-linecap="butt"/><path d="M25.2 522.3 L26.4 549.9 L30 567.3 L32.9 584.8 L35.8 605.1 L38.5 613.8 L41.5 627.7 L45.4 636.9 L50 645.9 L53.2 653 L57.9 656.2 L61.1 659.4 L64.3 663.3 L68.3 666.5 L73 669.7 L77 672.9 L80.2 676.8 L84.1 679.2 L88.9 680.4 L95.5 680.6 L96.5 682.6 L103 683.5 L117 685.6 L220.7 686.1 L220.7 690.9 L242.3 690.9" fill="none" stroke="#a2a2a2" stroke-width="1.9" stroke-linejoin="miter" stroke-linecap="butt"/><path d="M90 679.33v2.2M88.9 680.43h2.2M97.33 681.61v2.2M96.23 682.71h2.2M99.88 681.97v2.2M98.78 683.07h2.2M106.06 682.86v2.2M104.96 683.96h2.2M109.35 683.35v2.2M108.25 684.45h2.2M116.79 684.47v2.2M115.69 685.57h2.2M119.37 684.51v2.2M118.27 685.61h2.2M126.27 684.54v2.2M125.17 685.64h2.2M132.17 684.57v2.2M131.07 685.67h2.2M138.96 684.61v2.2M137.86 685.71h2.2M146.46 684.64v2.2M145.36 685.74h2.2M150.16 684.66v2.2M149.06 685.76h2.2M154.35 684.68v2.2M153.25 685.78h2.2M160.39 684.71v2.2M159.29 685.81h2.2M164.29 684.73v2.2M163.19 685.83h2.2M168.11 684.75v2.2M167.01 685.85h2.2M171.75 684.76v2.2M170.65 685.86h2.2M178.54 684.8v2.2M177.44 685.9h2.2M185.41 684.83v2.2M184.31 685.93h2.2M191.9 684.86v2.2M190.8 685.96h2.2M195.52 684.88v2.2M194.42 685.98h2.2M202.64 684.91v2.2M201.54 686.01h2.2M207.7 684.94v2.2M206.6 686.04h2.2M211.36 684.95v2.2M210.26 686.05h2.2M216.14 684.98v2.2M215.04 686.08h2.2M220.73 689.8v2.2M219.63 690.9h2.2M223.63 689.8v2.2M222.53 690.9h2.2M228.95 689.8v2.2M227.85 690.9h2.2M233.25 689.8v2.2M232.15 690.9h2.2M238.6 689.8v2.2M237.5 690.9h2.2" fill="none" stroke="#9a9a9a" stroke-width="0.7"/><path d="M72 681.5v2.2M70.9 682.6h2.2M77.17 681.5v2.2M76.07 682.6h2.2M83.05 681.5v2.2M81.95 682.6h2.2M88.55 681.5v2.2M87.45 682.6h2.2M94.23 681.5v2.2M93.13 682.6h2.2M99.69 681.5v2.2M98.59 682.6h2.2M106.64 681.5v2.2M105.54 682.6h2.2M111.19 681.5v2.2M110.09 682.6h2.2M118 681.5v2.2M116.9 682.6h2.2M121.06 681.5v2.2M119.96 682.6h2.2M125.87 681.5v2.2M124.77 682.6h2.2M130.88 681.5v2.2M129.78 682.6h2.2M134.74 681.5v2.2M133.64 682.6h2.2" fill="none" stroke="#111" stroke-width="0.7"/><rect x="24.5" y="513.9" width="226.1" height="220.4" fill="none" stroke="#aaa" stroke-width="1.15"/><line x1="22.3" y1="726.1" x2="24.5" y2="726.1" stroke="#aaa" stroke-width="0.8"/><text transform="translate(17.8,726.1) rotate(-90)" text-anchor="middle" font-size="9">0.0</text><line x1="22.3" y1="685.26" x2="24.5" y2="685.26" stroke="#aaa" stroke-width="0.8"/><text transform="translate(17.8,685.26) rotate(-90)" text-anchor="middle" font-size="9">0.2</text><line x1="22.3" y1="644.42" x2="24.5" y2="644.42" stroke="#aaa" stroke-width="0.8"/><text transform="translate(17.8,644.42) rotate(-90)" text-anchor="middle" font-size="9">0.4</text><line x1="22.3" y1="603.58" x2="24.5" y2="603.58" stroke="#aaa" stroke-width="0.8"/><text transform="translate(17.8,603.58) rotate(-90)" text-anchor="middle" font-size="9">0.6</text><line x1="22.3" y1="562.74" x2="24.5" y2="562.74" stroke="#aaa" stroke-width="0.8"/><text transform="translate(17.8,562.74) rotate(-90)" text-anchor="middle" font-size="9">0.8</text><line x1="22.3" y1="521.9" x2="24.5" y2="521.9" stroke="#aaa" stroke-width="0.8"/><text transform="translate(17.8,521.9) rotate(-90)" text-anchor="middle" font-size="9"><tspan class="h1">1</tspan>.0</text><g transform="translate(17.8,521.9) rotate(-90)"><path d="M-4 0L-4 -5.44L-5.4 -4.44L-5.4 -5.19L-3.94 -6.19L-3.21 -6.19L-3.21 0Z" fill="#000" stroke="#000" stroke-width="0.42"/></g><line x1="24.4" y1="734.3" x2="24.4" y2="736.1" stroke="#aaa" stroke-width="0.8"/><text x="24.4" y="744.1" text-anchor="middle" font-size="9">0</text><line x1="75.75" y1="734.3" x2="75.75" y2="736.1" stroke="#aaa" stroke-width="0.8"/><text x="75.75" y="744.1" text-anchor="middle" font-size="9">5</text><line x1="127.1" y1="734.3" x2="127.1" y2="736.1" stroke="#aaa" stroke-width="0.8"/><text x="127.1" y="744.1" text-anchor="middle" font-size="9"><tspan class="h1">1</tspan>0</text><path d="M124.35 744.1L124.35 738.66L122.95 739.66L122.95 738.91L124.41 737.91L125.14 737.91L125.14 744.1Z" fill="#000" stroke="#000" stroke-width="0.42"/><line x1="178.45" y1="734.3" x2="178.45" y2="736.1" stroke="#aaa" stroke-width="0.8"/><text x="178.45" y="744.1" text-anchor="middle" font-size="9"><tspan class="h1">1</tspan>5</text><path d="M175.7 744.1L175.7 738.66L174.3 739.66L174.3 738.91L175.76 737.91L176.49 737.91L176.49 744.1Z" fill="#000" stroke="#000" stroke-width="0.42"/><line x1="229.8" y1="734.3" x2="229.8" y2="736.1" stroke="#aaa" stroke-width="0.8"/><text x="229.8" y="744.1" text-anchor="middle" font-size="9">20</text><text x="137.95" y="755.3" text-anchor="middle" font-size="9">Time (years)</text><text transform="translate(7.3,624) rotate(-90)" text-anchor="middle" font-size="9">Probability of Overall Survival</text><line x1="83.2" y1="532.65" x2="100.7" y2="532.65" stroke="#111" stroke-width="2"/><text x="107.8" y="535.5" font-size="9">M0, n = 49</text><line x1="83.2" y1="543.45" x2="100.7" y2="543.45" stroke="#a2a2a2" stroke-width="1.9"/><text x="107.8" y="546.3" font-size="9">M<tspan class="h1">1</tspan>−M6, n = 5<tspan class="h1">1</tspan>5</text><path d="M117.56 546.3L117.56 540.86L116.17 541.86L116.17 541.11L117.63 540.11L118.36 540.11L118.36 546.3ZM165.61 546.3L165.61 540.86L164.21 541.86L164.21 541.11L165.68 540.11L166.41 540.11L166.41 546.3Z" fill="#000" stroke="#000" stroke-width="0.42"/><text x="-1.2" y="524" font-size="14" font-weight="bold" style="stroke-width:0.5px">E</text></g>
<g><path d="M294.4 521.5 L295.1 533.2 L296.5 538.3 L299 538.3 L300.5 557.2 L301.6 589.1 L303.4 589.1 L303.5 600 L303.5 606.2 L304.5 606.2 L305.8 629.2 L308.8 629.2 L308.8 635.4 L318.1 635.4 L318.1 641.5 L319.3 641.5 L319.3 647.7 L327 647.7 L327 659.2 L328.5 659.2 L328.5 673.8 L335.3 673.8 L335.3 681.5 L402.5 681.5" fill="none" stroke="#111" stroke-width="2" stroke-linejoin="miter" stroke-linecap="butt"/><path d="M294.4 521.5 L295.8 536.8 L298 555.7 L300.2 577.5 L302.4 599.3 L304.5 616.7 L305 630.8 L308.1 641.5 L313.5 652.3 L319.6 661.5 L328.1 670 L336.5 672 L339.2 672.7 L350 675.8 L357.7 677.3 L363.8 679.6 L368.5 680.4 L511.8 680.4" fill="none" stroke="#a2a2a2" stroke-width="1.9" stroke-linejoin="miter" stroke-linecap="butt"/><path d="M340 671.83v2.2M338.9 672.93h2.2M345.11 673.3v2.2M344.01 674.4h2.2M351.64 675.02v2.2M350.54 676.12h2.2M358.95 676.67v2.2M357.85 677.77h2.2M362.89 678.16v2.2M361.79 679.26h2.2M369.22 679.3v2.2M368.12 680.4h2.2M375.25 679.3v2.2M374.15 680.4h2.2M381.05 679.3v2.2M379.95 680.4h2.2M384.1 679.3v2.2M383 680.4h2.2M386.74 679.3v2.2M385.64 680.4h2.2M391.16 679.3v2.2M390.06 680.4h2.2M397.39 679.3v2.2M396.29 680.4h2.2M401.15 679.3v2.2M400.05 680.4h2.2M406.16 679.3v2.2M405.06 680.4h2.2M410.25 679.3v2.2M409.15 680.4h2.2M416.98 679.3v2.2M415.88 680.4h2.2M424.21 679.3v2.2M423.11 680.4h2.2M428.71 679.3v2.2M427.61 680.4h2.2M436.21 679.3v2.2M435.11 680.4h2.2M439.02 679.3v2.2M437.92 680.4h2.2M445.58 679.3v2.2M444.48 680.4h2.2M452.46 679.3v2.2M451.36 680.4h2.2M455.71 679.3v2.2M454.61 680.4h2.2M461.74 679.3v2.2M460.64 680.4h2.2M467.03 679.3v2.2M465.93 680.4h2.2M474.31 679.3v2.2M473.21 680.4h2.2M477.86 679.3v2.2M476.76 680.4h2.2M483.06 679.3v2.2M481.96 680.4h2.2M489.97 679.3v2.2M488.87 680.4h2.2M495.67 679.3v2.2M494.57 680.4h2.2M499.71 679.3v2.2M498.61 680.4h2.2M502.62 679.3v2.2M501.52 680.4h2.2M509.82 679.3v2.2M508.72 680.4h2.2" fill="none" stroke="#9a9a9a" stroke-width="0.7"/><path d="M338 680.4v2.2M336.9 681.5h2.2M341.41 680.4v2.2M340.31 681.5h2.2M347.21 680.4v2.2M346.11 681.5h2.2M351.39 680.4v2.2M350.29 681.5h2.2M354.88 680.4v2.2M353.78 681.5h2.2M359.82 680.4v2.2M358.72 681.5h2.2M364.79 680.4v2.2M363.69 681.5h2.2M369.69 680.4v2.2M368.59 681.5h2.2M374.48 680.4v2.2M373.38 681.5h2.2M378.31 680.4v2.2M377.21 681.5h2.2M382.08 680.4v2.2M380.98 681.5h2.2M388.04 680.4v2.2M386.94 681.5h2.2M392.16 680.4v2.2M391.06 681.5h2.2M398.03 680.4v2.2M396.93 681.5h2.2" fill="none" stroke="#111" stroke-width="0.7"/><rect x="293.6" y="513.9" width="225.9" height="220.4" fill="none" stroke="#aaa" stroke-width="1.15"/><line x1="291.4" y1="726.1" x2="293.6" y2="726.1" stroke="#aaa" stroke-width="0.8"/><text transform="translate(286.9,726.1) rotate(-90)" text-anchor="middle" font-size="9">0.0</text><line x1="291.4" y1="685.26" x2="293.6" y2="685.26" stroke="#aaa" stroke-width="0.8"/><text transform="translate(286.9,685.26) rotate(-90)" text-anchor="middle" font-size="9">0.2</text><line x1="291.4" y1="644.42" x2="293.6" y2="644.42" stroke="#aaa" stroke-width="0.8"/><text transform="translate(286.9,644.42) rotate(-90)" text-anchor="middle" font-size="9">0.4</text><line x1="291.4" y1="603.58" x2="293.6" y2="603.58" stroke="#aaa" stroke-width="0.8"/><text transform="translate(286.9,603.58) rotate(-90)" text-anchor="middle" font-size="9">0.6</text><line x1="291.4" y1="562.74" x2="293.6" y2="562.74" stroke="#aaa" stroke-width="0.8"/><text transform="translate(286.9,562.74) rotate(-90)" text-anchor="middle" font-size="9">0.8</text><line x1="291.4" y1="521.9" x2="293.6" y2="521.9" stroke="#aaa" stroke-width="0.8"/><text transform="translate(286.9,521.9) rotate(-90)" text-anchor="middle" font-size="9"><tspan class="h1">1</tspan>.0</text><g transform="translate(286.9,521.9) rotate(-90)"><path d="M-4 0L-4 -5.44L-5.4 -4.44L-5.4 -5.19L-3.94 -6.19L-3.21 -6.19L-3.21 0Z" fill="#000" stroke="#000" stroke-width="0.42"/></g><line x1="293.5" y1="734.3" x2="293.5" y2="736.1" stroke="#aaa" stroke-width="0.8"/><text x="293.5" y="744.1" text-anchor="middle" font-size="9">0</text><line x1="345" y1="734.3" x2="345" y2="736.1" stroke="#aaa" stroke-width="0.8"/><text x="345" y="744.1" text-anchor="middle" font-size="9">5</text><line x1="396.5" y1="734.3" x2="396.5" y2="736.1" stroke="#aaa" stroke-width="0.8"/><text x="396.5" y="744.1" text-anchor="middle" font-size="9"><tspan class="h1">1</tspan>0</text><path d="M393.75 744.1L393.75 738.66L392.35 739.66L392.35 738.91L393.81 737.91L394.54 737.91L394.54 744.1Z" fill="#000" stroke="#000" stroke-width="0.42"/><line x1="448" y1="734.3" x2="448" y2="736.1" stroke="#aaa" stroke-width="0.8"/><text x="448" y="744.1" text-anchor="middle" font-size="9"><tspan class="h1">1</tspan>5</text><path d="M445.25 744.1L445.25 738.66L443.85 739.66L443.85 738.91L445.31 737.91L446.04 737.91L446.04 744.1Z" fill="#000" stroke="#000" stroke-width="0.42"/><line x1="499.5" y1="734.3" x2="499.5" y2="736.1" stroke="#aaa" stroke-width="0.8"/><text x="499.5" y="744.1" text-anchor="middle" font-size="9">20</text><text x="406.95" y="755.3" text-anchor="middle" font-size="9">Time (years)</text><text transform="translate(275.5,624) rotate(-90)" text-anchor="middle" font-size="9">Probability of Relapse−Free Survival</text><line x1="352.1" y1="532.35" x2="369.6" y2="532.35" stroke="#111" stroke-width="2"/><text x="376.7" y="535.2" font-size="9">M0, n = 37</text><line x1="352.1" y1="543.15" x2="369.6" y2="543.15" stroke="#a2a2a2" stroke-width="1.9"/><text x="376.7" y="546" font-size="9">M<tspan class="h1">1</tspan>−M6, n = 403</text><path d="M386.46 546L386.46 540.56L385.07 541.56L385.07 540.81L386.53 539.81L387.26 539.81L387.26 546Z" fill="#000" stroke="#000" stroke-width="0.42"/><text x="268" y="524" font-size="14" font-weight="bold" style="stroke-width:0.5px">F</text></g>
</svg></body></html>
